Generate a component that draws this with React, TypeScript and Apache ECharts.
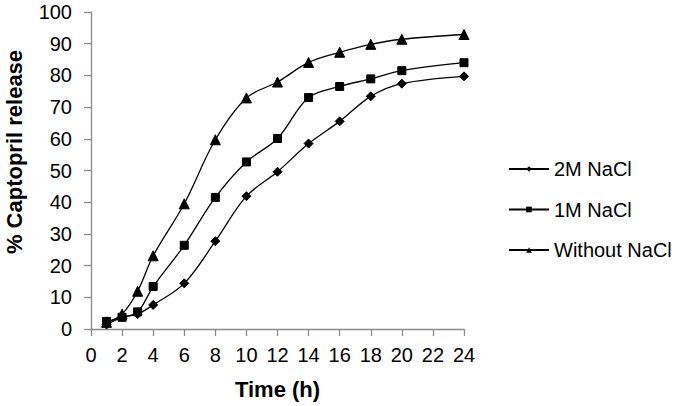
import React, { useEffect, useRef } from "react";
import * as echarts from "echarts";

const times = [1, 2, 3, 4, 6, 8, 10, 12, 14, 16, 18, 20, 24];
const nacl2M = [1.4, 3.7, 4.7, 7.6, 14.4, 27.7, 41.9, 49.6, 58.5, 65.5, 73.4, 77.4, 79.7];
const nacl1M = [2.4, 3.7, 5.4, 13.4, 26.4, 41.5, 52.7, 60.1, 73.0, 76.5, 78.9, 81.5, 84.0];
const noNacl = [2.1, 4.7, 11.9, 23.1, 39.5, 59.7, 72.9, 77.9, 84.1, 87.3, 89.8, 91.4, 92.9];
const seriesNames = ["2M NaCl", "1M NaCl", "Without NaCl"];
const yTitle = "% Captopril release";
const xTitle = "Time (h)";

const FONT = "'Liberation Sans', Arial, Helvetica, sans-serif";

export default function App() {
  const ref = useRef<HTMLDivElement>(null);
  useEffect(() => {
    document.body.style.margin = "0";
    if (!ref.current) return;
    const chart = echarts.init(ref.current, null, { renderer: "svg" });
    const mk = (name: string, vals: number[], symbol: string, size: number) => ({
      name,
      type: "line",
      smooth: 0.35,
      data: times.map((t, i) => [t, vals[i]]),
      symbol,
      symbolSize: size,
      lineStyle: { color: "#000", width: 1.3 },
      itemStyle: { color: "#000", borderColor: "#000" },
    });
    chart.setOption({
      animation: false,
      textStyle: { fontFamily: FONT },
      grid: { left: 91, right: 221, top: 12, bottom: 77 },
      legend: {
        orient: "vertical",
        left: 503,
        top: 154,
        itemWidth: 40,
        itemHeight: 7,
        itemGap: 20.5,
        textStyle: { fontFamily: FONT, fontSize: 20, color: "#000" },
        data: seriesNames,
      },
      xAxis: {
        type: "value",
        min: 0,
        max: 24,
        interval: 2,
        name: xTitle,
        nameLocation: "middle",
        nameGap: 49,
        nameTextStyle: { fontFamily: FONT, fontSize: 22, fontWeight: "bold", color: "#000" },
        axisLine: { show: true, lineStyle: { color: "#8a8a8a", width: 1.3 } },
        axisTick: { show: true, inside: false, length: 7, lineStyle: { color: "#8a8a8a", width: 1.3 } },
        axisLabel: { fontFamily: FONT, fontSize: 20, color: "#000", margin: 16 },
        splitLine: { show: false },
      },
      yAxis: {
        type: "value",
        min: 0,
        max: 100,
        interval: 10,
        axisLine: { show: true, lineStyle: { color: "#8a8a8a", width: 1.3 } },
        axisTick: { show: true, inside: false, length: 7, lineStyle: { color: "#8a8a8a", width: 1.3 } },
        axisLabel: { fontFamily: FONT, fontSize: 20, color: "#000", margin: 19 },
        splitLine: { show: false },
      },
      graphic: [
        {
          type: "text",
          x: 14,
          y: 152,
          rotation: Math.PI / 2,
          style: {
            text: yTitle,
            fontFamily: FONT,
            fontSize: 22,
            fontWeight: "bold",
            fill: "#000",
            align: "center",
            verticalAlign: "middle",
          },
        },
      ],
      series: [
        mk(seriesNames[0], nacl2M, "diamond", 9),
        mk(seriesNames[1], nacl1M, "rect", 8),
        mk(seriesNames[2], noNacl, "triangle", 10),
      ],
    });
    return () => chart.dispose();
  }, []);
  return <div ref={ref} style={{ width: 685, height: 406 }} />;
}
